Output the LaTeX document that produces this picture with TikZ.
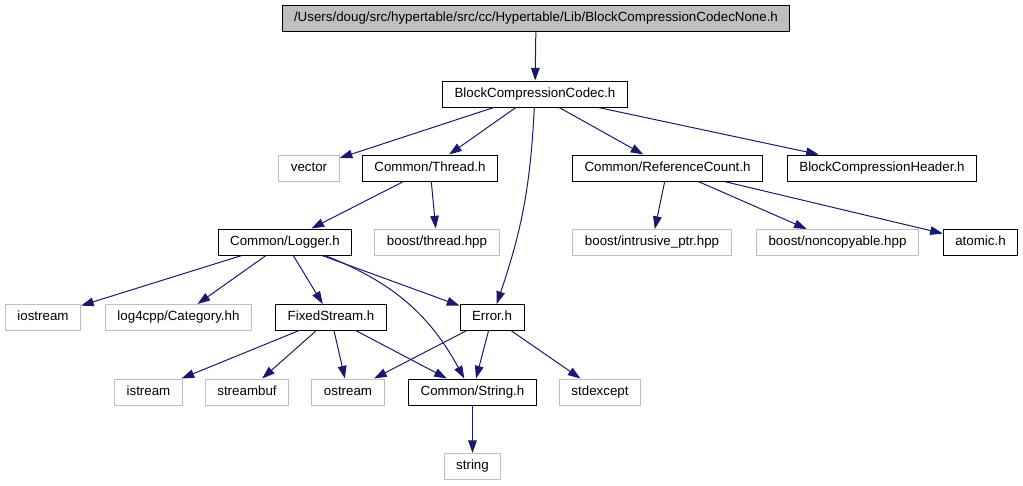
\documentclass[tikz,border=0pt]{standalone}
\usepackage{fontspec}
\setmainfont{Liberation Sans}
\usepackage{xcolor}
\usepackage{tikz}
\usetikzlibrary{arrows.meta}

\definecolor{edgeblue}{HTML}{191970}
\definecolor{boxgray}{HTML}{BFBFBF}

\begin{document}
\begin{tikzpicture}[
			x=0.75pt, y=-0.75pt,
			file/.style={draw, line width=0.75pt, fill=white, minimum height=19.5pt,
			inner xsep=9pt, inner ysep=0pt, text height=7.2pt, text depth=2pt,
			font=\fontsize{10}{12}\selectfont},
			sysfile/.style={file, draw=boxgray},
			mainfile/.style={file, fill=boxgray},
			dep/.style={-{Triangle[length=9.5pt, width=6.5pt]}, line width=0.75pt, color=edgeblue}
		]
			\useasboundingbox (0, 0) rectangle (1023, 485);

			\node[mainfile] at (536, 18.5) (none) {/Users/doug/src/hypertable/src/cc/Hypertable/Lib/BlockCompressionCodecNone.h};
			\node[file] at (535, 94) (codec) {BlockCompressionCodec.h};

			\node[sysfile] at (309, 168) (vector) {vector};
			\node[file] at (430, 168) (thread) {Common/Thread.h};
			\node[file] at (667.5, 168) (refcount) {Common/ReferenceCount.h};
			\node[file] at (882, 168) (header) {BlockCompressionHeader.h};

			\node[file] at (285, 242) (logger) {Common/Logger.h};
			\node[sysfile] at (437, 242) (bthread) {boost/thread.hpp};
			\node[sysfile] at (652, 242.5) (intrusive) {boost/intrusive\_ptr.hpp};
			\node[sysfile] at (837.5, 242.5) (noncopy) {boost/noncopyable.hpp};
			\node[file] at (980.5, 242.5) (atomic) {atomic.h};

			\node[sysfile] at (43, 317.5) (iostream) {iostream};
			\node[sysfile] at (178.5, 317.5) (category) {log4cpp/Category.hh};
			\node[file] at (331, 317.5) (fixed) {FixedStream.h};
			\node[file] at (492, 317.5) (error) {Error.h};

			\node[sysfile] at (148.5, 392) (istream) {istream};
			\node[sysfile] at (247, 392) (streambuf) {streambuf};
			\node[sysfile] at (348, 392) (ostream) {ostream};
			\node[file] at (472.5, 392) (cstring) {Common/String.h};
			\node[sysfile] at (600, 392) (stdexcept) {stdexcept};

			\node[sysfile] at (472.5, 466.5) (string) {string};

			\draw[dep] (none) to (codec);

			\draw[dep] (codec) to (vector);
			\draw[dep] (codec) to (thread);
			\draw[dep] (codec) to[bend left=8] (error);
			\draw[dep] (codec) to (refcount);
			\draw[dep] (codec) to (header);

			\draw[dep] (thread) to (logger);
			\draw[dep] (thread) to (bthread);

			\draw[dep] (refcount) to (intrusive);
			\draw[dep] (refcount) to (noncopy);
			\draw[dep] (refcount) to (atomic);

			\draw[dep] (logger) to (iostream);
			\draw[dep] (logger) to (category);
			\draw[dep] (logger) to (fixed);
			\draw[dep] (logger) to[bend left=20] (cstring);
			\draw[dep] (logger) to (error);

			\draw[dep] (fixed) to (istream);
			\draw[dep] (fixed) to (streambuf);
			\draw[dep] (fixed) to (ostream);
			\draw[dep] (fixed) to (cstring);

			\draw[dep] (error) to (ostream);
			\draw[dep] (error) to (cstring);
			\draw[dep] (error) to (stdexcept);

			\draw[dep] (cstring) to (string);
		\end{tikzpicture}
\end{document}
